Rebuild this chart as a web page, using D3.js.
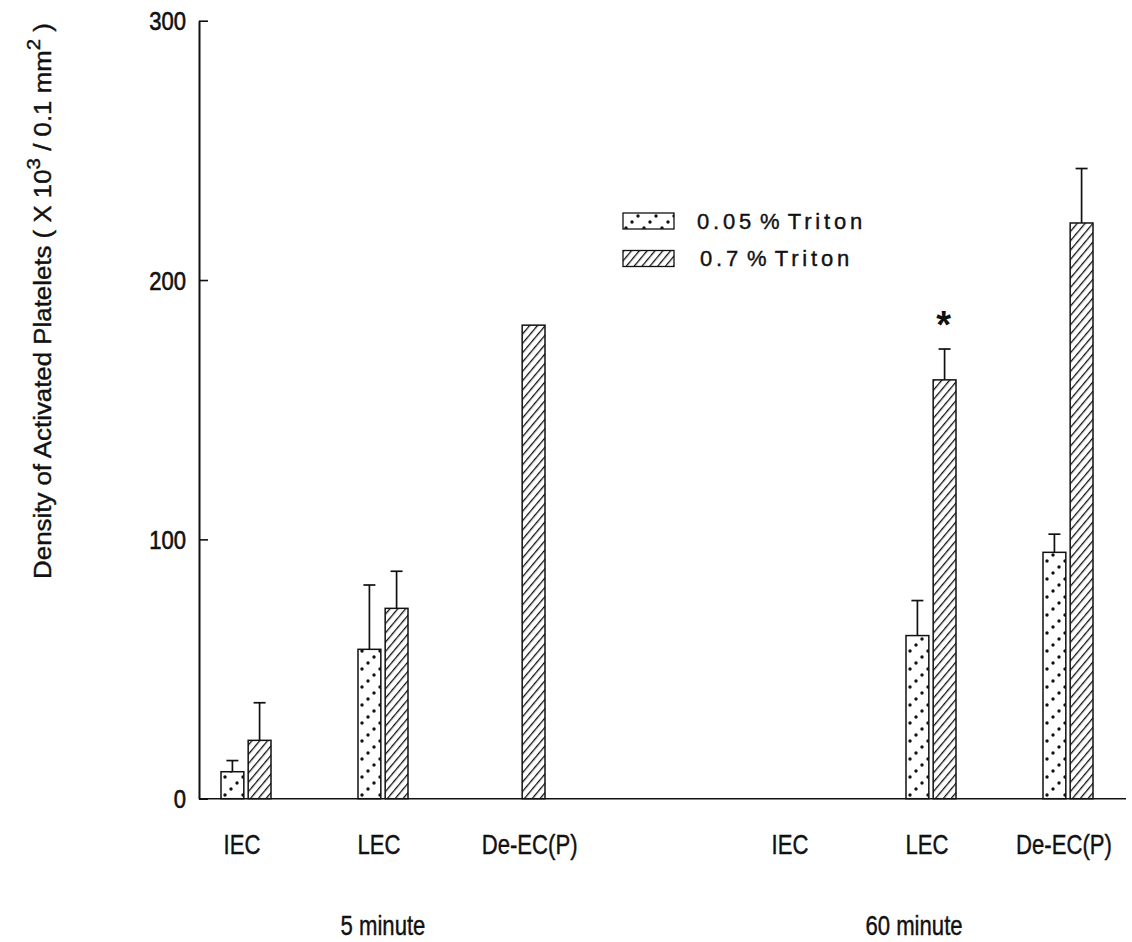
<!DOCTYPE html>
<html>
<head>
<meta charset="utf-8">
<script src="https://cdn.jsdelivr.net/npm/d3@7"></script>
<style>
  html, body { margin: 0; padding: 0; background: #fff; }
  svg { display: block; }
  text { fill: #111; }
</style>
</head>
<body>
<svg id="chart" width="1132" height="942"></svg>
<script>
// Platelet density by endothelial preparation, two Triton concentrations
const categories = ["IEC", "LEC", "De-EC(P)", "IEC", "LEC", "De-EC(P)"];
const periods = ["5 minute", "60 minute"];
const seriesNames = ["0.05 % Triton", "0.7 % Triton"];

// mean values (x 10^3 / 0.1 mm^2); null = no bar
const lowTriton = [10.4, 57.6, null, null, 62.9, 95];
const highTriton = [22.5, 73.4, 182.6, null, 161.5, 222];
// error bar (upper) lengths
const lowTritonErr = [4.3, 24.8, null, null, 13.5, 7];
const highTritonErr = [14.5, 14.3, null, null, 11.9, 21];

const yTicks = [0, 100, 200, 300];
const significant = [false, false, false, false, true, false];

const svg = d3.select("#chart");
const defs = svg.append("defs");

// dotted fill: dots on rising diagonals
const dots = defs.append("pattern")
  .attr("id", "dots").attr("patternUnits", "userSpaceOnUse")
  .attr("width", 18).attr("height", 18);
dots.append("rect").attr("width", 18).attr("height", 18).attr("fill", "#fff");
[[3, 15], [9, 9], [15, 3]].forEach(([cx, cy]) =>
  dots.append("circle").attr("cx", cx).attr("cy", cy).attr("r", 1.7).attr("fill", "#111"));

// diagonal hatch fill
const hatch = defs.append("pattern")
  .attr("id", "hatch").attr("patternUnits", "userSpaceOnUse")
  .attr("width", 6).attr("height", 6)
  .attr("patternTransform", "rotate(40)");
hatch.append("rect").attr("width", 6).attr("height", 6).attr("fill", "#fff");
hatch.append("line").attr("x1", 0).attr("y1", 0).attr("x2", 0).attr("y2", 6)
  .attr("stroke", "#111").attr("stroke-width", 2.6);

const fills = ["url(#dots)", "url(#hatch)"];

// scales
const slots = ["a0", "a1", "a2", "gap", "b0", "b1", "b2"];
const slotOf = i => (i < 3 ? "a" + i : "b" + (i - 3));
const x = d3.scalePoint().domain(slots).range([246, 1068]);
const inner = d3.scaleBand().domain([0, 1]).range([-25, 25]).paddingInner(0.16);
const y = d3.scaleLinear().domain([0, 300]).range([798.7, 20.7]);

const font = "'Liberation Sans', Arial, Helvetica, sans-serif";
const squeeze = 0.82; // narrow lettering

// y axis
const yAxis = d3.axisLeft(y).tickValues(yTicks).tickSizeInner(-9).tickSizeOuter(0).tickPadding(13);
const gy = svg.append("g").attr("transform", "translate(199,0)").call(yAxis);
gy.select(".domain").attr("stroke", "#111").attr("stroke-width", 2);
gy.selectAll(".tick line").attr("stroke", "#111").attr("stroke-width", 1.6);
gy.selectAll(".tick text")
  .attr("font-family", font).attr("font-size", 25)
  .attr("x", -13 / 0.88).attr("dy", "0.36em")
  .attr("transform", "scale(0.88,1)")
  .attr("fill", "#111").attr("stroke", "#111").attr("stroke-width", 0.6);

// baseline
svg.append("line").attr("x1", 199).attr("x2", 1126).attr("y1", y(0)).attr("y2", y(0))
  .attr("stroke", "#111").attr("stroke-width", 1.6);

// bars
const rows = categories.map((c, i) => ({
  i, c,
  vals: [
    { s: 0, v: lowTriton[i], e: lowTritonErr[i] },
    { s: 1, v: highTriton[i], e: highTritonErr[i] }
  ]
}));

const groups = svg.append("g").selectAll("g").data(rows).join("g")
  .attr("transform", d => `translate(${x(slotOf(d.i))},0)`);

const bars = groups.selectAll("g.bar").data(d => d.vals.filter(v => v.v != null))
  .join("g").attr("class", "bar");

bars.append("rect")
  .attr("x", d => inner(d.s))
  .attr("width", inner.bandwidth())
  .attr("y", d => y(d.v))
  .attr("height", d => y(0) - y(d.v))
  .attr("fill", d => fills[d.s])
  .attr("stroke", "#111").attr("stroke-width", 1.5);

const eb = bars.filter(d => d.e != null);
const mid = d => inner(d.s) + inner.bandwidth() / 2;
eb.append("line")
  .attr("x1", mid).attr("x2", mid)
  .attr("y1", d => y(d.v)).attr("y2", d => y(d.v + d.e))
  .attr("stroke", "#111").attr("stroke-width", 1.7);
eb.append("line")
  .attr("x1", d => mid(d) - 6).attr("x2", d => mid(d) + 6)
  .attr("y1", d => y(d.v + d.e)).attr("y2", d => y(d.v + d.e))
  .attr("stroke", "#111").attr("stroke-width", 1.7);

// significance marker
groups.filter(d => significant[d.i]).append("text")
  .attr("x", inner(1) + inner.bandwidth() / 2 - 1)
  .attr("y", d => y(highTriton[d.i] + highTritonErr[d.i]) - 11)
  .attr("text-anchor", "middle").attr("font-family", font).attr("font-size", 38)
  .attr("font-weight", "bold")
  .text("*");

// category labels, centred under the bars that are drawn (nudged left)
const labelX = d => {
  const present = d.vals.filter(v => v.v != null);
  if (present.length !== 1) return -4;
  return mid(present[0]) - 4;
};
groups.append("text")
  .attr("transform", d => `translate(${labelX(d)},854) scale(${squeeze},1)`)
  .attr("text-anchor", "middle").attr("font-family", font).attr("font-size", 27)
  .attr("stroke", "#111").attr("stroke-width", 0.4)
  .text(d => d.c);

// period labels
const periodX = [383, 914];
svg.append("g").selectAll("text").data(periods).join("text")
  .attr("transform", (d, i) => `translate(${periodX[i]},935) scale(${squeeze},1)`)
  .attr("text-anchor", "middle").attr("font-family", font).attr("font-size", 27)
  .attr("stroke", "#111").attr("stroke-width", 0.4)
  .text(d => d);

// y axis title (condensed to span the axis height)
const title = svg.append("text")
  .attr("text-anchor", "middle").attr("font-family", font).attr("font-size", 24)
  .attr("stroke", "#111").attr("stroke-width", 0.4);
title.append("tspan").text("Density of Activated Platelets ( X 10");
title.append("tspan").attr("dy", -11).attr("font-size", 19).text("3");
title.append("tspan").attr("dy", 11).text(" / 0.1 mm");
title.append("tspan").attr("dy", -11).attr("font-size", 19).text("2");
title.append("tspan").attr("dy", 11).text(" )");
const titleLen = title.node().getComputedTextLength();
title.attr("transform", `translate(51,301) rotate(-90) scale(${556 / titleLen},1)`);

// legend
const legend = svg.append("g").selectAll("g").data(seriesNames).join("g")
  .attr("transform", (d, i) => `translate(623,${213 + i * 37.5})`);
legend.append("rect").attr("width", 51).attr("height", 16)
  .attr("fill", (d, i) => fills[i]).attr("stroke", "#111").attr("stroke-width", 1.3);
legend.append("text").attr("x", (d, i) => 74 + i * 3).attr("y", 15.5)
  .attr("font-family", font).attr("font-size", 22)
  .attr("letter-spacing", 3.8).attr("word-spacing", -5)
  .attr("stroke", "#111").attr("stroke-width", 0.4)
  .text(d => d);
</script>
</body>
</html>
